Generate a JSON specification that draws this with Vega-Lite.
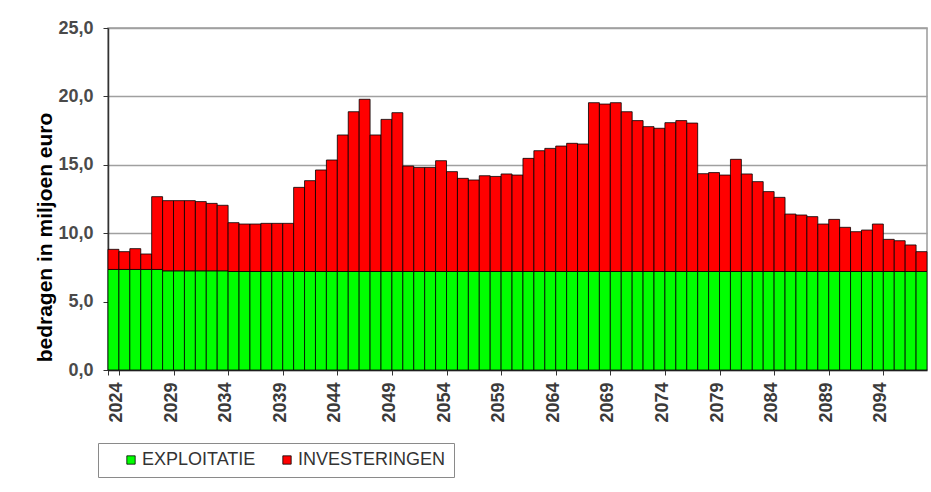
{
  "$schema": "https://vega.github.io/schema/vega-lite/v6.json",
  "width": 819,
  "height": 342,
  "autosize": {"type": "none"},
  "padding": {"left": 108, "top": 28, "right": 4, "bottom": 122},
  "background": "white",
  "config": {
    "view": {"stroke": "#9a9a9a", "strokeWidth": 1.5},
    "font": "Liberation Sans"
  },
  "data": {
    "values": [
      {"jaar": 2024, "EXPLOITATIE": 7.35, "INVESTERINGEN": 1.47},
      {"jaar": 2025, "EXPLOITATIE": 7.35, "INVESTERINGEN": 1.30},
      {"jaar": 2026, "EXPLOITATIE": 7.35, "INVESTERINGEN": 1.52},
      {"jaar": 2027, "EXPLOITATIE": 7.35, "INVESTERINGEN": 1.13},
      {"jaar": 2028, "EXPLOITATIE": 7.35, "INVESTERINGEN": 5.32},
      {"jaar": 2029, "EXPLOITATIE": 7.25, "INVESTERINGEN": 5.13},
      {"jaar": 2030, "EXPLOITATIE": 7.25, "INVESTERINGEN": 5.13},
      {"jaar": 2031, "EXPLOITATIE": 7.25, "INVESTERINGEN": 5.13},
      {"jaar": 2032, "EXPLOITATIE": 7.25, "INVESTERINGEN": 5.06},
      {"jaar": 2033, "EXPLOITATIE": 7.25, "INVESTERINGEN": 4.93},
      {"jaar": 2034, "EXPLOITATIE": 7.25, "INVESTERINGEN": 4.79},
      {"jaar": 2035, "EXPLOITATIE": 7.2, "INVESTERINGEN": 3.57},
      {"jaar": 2036, "EXPLOITATIE": 7.2, "INVESTERINGEN": 3.47},
      {"jaar": 2037, "EXPLOITATIE": 7.2, "INVESTERINGEN": 3.47},
      {"jaar": 2038, "EXPLOITATIE": 7.2, "INVESTERINGEN": 3.52},
      {"jaar": 2039, "EXPLOITATIE": 7.2, "INVESTERINGEN": 3.52},
      {"jaar": 2040, "EXPLOITATIE": 7.2, "INVESTERINGEN": 3.52},
      {"jaar": 2041, "EXPLOITATIE": 7.2, "INVESTERINGEN": 6.15},
      {"jaar": 2042, "EXPLOITATIE": 7.2, "INVESTERINGEN": 6.64},
      {"jaar": 2043, "EXPLOITATIE": 7.2, "INVESTERINGEN": 7.42},
      {"jaar": 2044, "EXPLOITATIE": 7.2, "INVESTERINGEN": 8.15},
      {"jaar": 2045, "EXPLOITATIE": 7.2, "INVESTERINGEN": 9.98},
      {"jaar": 2046, "EXPLOITATIE": 7.2, "INVESTERINGEN": 11.68},
      {"jaar": 2047, "EXPLOITATIE": 7.2, "INVESTERINGEN": 12.59},
      {"jaar": 2048, "EXPLOITATIE": 7.2, "INVESTERINGEN": 9.98},
      {"jaar": 2049, "EXPLOITATIE": 7.2, "INVESTERINGEN": 11.12},
      {"jaar": 2050, "EXPLOITATIE": 7.2, "INVESTERINGEN": 11.61},
      {"jaar": 2051, "EXPLOITATIE": 7.2, "INVESTERINGEN": 7.71},
      {"jaar": 2052, "EXPLOITATIE": 7.2, "INVESTERINGEN": 7.61},
      {"jaar": 2053, "EXPLOITATIE": 7.2, "INVESTERINGEN": 7.61},
      {"jaar": 2054, "EXPLOITATIE": 7.2, "INVESTERINGEN": 8.10},
      {"jaar": 2055, "EXPLOITATIE": 7.2, "INVESTERINGEN": 7.30},
      {"jaar": 2056, "EXPLOITATIE": 7.2, "INVESTERINGEN": 6.81},
      {"jaar": 2057, "EXPLOITATIE": 7.2, "INVESTERINGEN": 6.69},
      {"jaar": 2058, "EXPLOITATIE": 7.2, "INVESTERINGEN": 7.00},
      {"jaar": 2059, "EXPLOITATIE": 7.2, "INVESTERINGEN": 6.95},
      {"jaar": 2060, "EXPLOITATIE": 7.2, "INVESTERINGEN": 7.13},
      {"jaar": 2061, "EXPLOITATIE": 7.2, "INVESTERINGEN": 7.05},
      {"jaar": 2062, "EXPLOITATIE": 7.2, "INVESTERINGEN": 8.27},
      {"jaar": 2063, "EXPLOITATIE": 7.2, "INVESTERINGEN": 8.83},
      {"jaar": 2064, "EXPLOITATIE": 7.2, "INVESTERINGEN": 9.00},
      {"jaar": 2065, "EXPLOITATIE": 7.2, "INVESTERINGEN": 9.17},
      {"jaar": 2066, "EXPLOITATIE": 7.2, "INVESTERINGEN": 9.37},
      {"jaar": 2067, "EXPLOITATIE": 7.2, "INVESTERINGEN": 9.32},
      {"jaar": 2068, "EXPLOITATIE": 7.2, "INVESTERINGEN": 12.34},
      {"jaar": 2069, "EXPLOITATIE": 7.2, "INVESTERINGEN": 12.24},
      {"jaar": 2070, "EXPLOITATIE": 7.2, "INVESTERINGEN": 12.34},
      {"jaar": 2071, "EXPLOITATIE": 7.2, "INVESTERINGEN": 11.68},
      {"jaar": 2072, "EXPLOITATIE": 7.2, "INVESTERINGEN": 11.03},
      {"jaar": 2073, "EXPLOITATIE": 7.2, "INVESTERINGEN": 10.59},
      {"jaar": 2074, "EXPLOITATIE": 7.2, "INVESTERINGEN": 10.47},
      {"jaar": 2075, "EXPLOITATIE": 7.2, "INVESTERINGEN": 10.88},
      {"jaar": 2076, "EXPLOITATIE": 7.2, "INVESTERINGEN": 11.03},
      {"jaar": 2077, "EXPLOITATIE": 7.2, "INVESTERINGEN": 10.85},
      {"jaar": 2078, "EXPLOITATIE": 7.2, "INVESTERINGEN": 7.15},
      {"jaar": 2079, "EXPLOITATIE": 7.2, "INVESTERINGEN": 7.23},
      {"jaar": 2080, "EXPLOITATIE": 7.2, "INVESTERINGEN": 7.05},
      {"jaar": 2081, "EXPLOITATIE": 7.2, "INVESTERINGEN": 8.20},
      {"jaar": 2082, "EXPLOITATIE": 7.2, "INVESTERINGEN": 7.13},
      {"jaar": 2083, "EXPLOITATIE": 7.2, "INVESTERINGEN": 6.57},
      {"jaar": 2084, "EXPLOITATIE": 7.2, "INVESTERINGEN": 5.84},
      {"jaar": 2085, "EXPLOITATIE": 7.2, "INVESTERINGEN": 5.42},
      {"jaar": 2086, "EXPLOITATIE": 7.2, "INVESTERINGEN": 4.20},
      {"jaar": 2087, "EXPLOITATIE": 7.2, "INVESTERINGEN": 4.13},
      {"jaar": 2088, "EXPLOITATIE": 7.2, "INVESTERINGEN": 4.01},
      {"jaar": 2089, "EXPLOITATIE": 7.2, "INVESTERINGEN": 3.47},
      {"jaar": 2090, "EXPLOITATIE": 7.2, "INVESTERINGEN": 3.81},
      {"jaar": 2091, "EXPLOITATIE": 7.2, "INVESTERINGEN": 3.23},
      {"jaar": 2092, "EXPLOITATIE": 7.2, "INVESTERINGEN": 2.91},
      {"jaar": 2093, "EXPLOITATIE": 7.2, "INVESTERINGEN": 3.03},
      {"jaar": 2094, "EXPLOITATIE": 7.2, "INVESTERINGEN": 3.47},
      {"jaar": 2095, "EXPLOITATIE": 7.2, "INVESTERINGEN": 2.35},
      {"jaar": 2096, "EXPLOITATIE": 7.2, "INVESTERINGEN": 2.25},
      {"jaar": 2097, "EXPLOITATIE": 7.2, "INVESTERINGEN": 1.94},
      {"jaar": 2098, "EXPLOITATIE": 7.2, "INVESTERINGEN": 1.45}
    ]
  },
  "transform": [{"fold": ["EXPLOITATIE", "INVESTERINGEN"], "as": ["serie", "waarde"]}],
  "mark": {"type": "bar", "stroke": "black", "strokeWidth": 0.8},
  "encoding": {
    "x": {
      "field": "jaar",
      "type": "ordinal",
      "scale": {"paddingInner": 0, "paddingOuter": 0},
      "axis": {
        "title": null,
        "values": [2024, 2029, 2034, 2039, 2044, 2049, 2054, 2059, 2064, 2069, 2074, 2079, 2084, 2089, 2094],
        "labelAngle": -90,
        "labelOffset": 3,
        "tickBand": "extent",
        "labelFontSize": 18,
        "labelFontWeight": "bold",
        "labelColor": "#3a3a3a",
        "tickSize": 5,
        "tickColor": "#333333",
        "labelPadding": 7,
        "domainColor": "#333333",
        "domainWidth": 1.5
      }
    },
    "y": {
      "field": "waarde",
      "type": "quantitative",
      "stack": "zero",
      "scale": {"domain": [0, 25], "nice": false},
      "axis": {
        "values": [0, 5, 10, 15, 20, 25],
        "labelExpr": "replace(format(datum.value, '.1f'), '.', ',')",
        "labelFontSize": 18,
        "labelFontWeight": "bold",
        "labelColor": "#4a4a4a",
        "labelPadding": 10,
        "tickSize": 5,
        "tickColor": "#333333",
        "domainColor": "#333333",
        "domainWidth": 1.5,
        "gridColor": "#a0a0a0",
        "gridWidth": 1.5,
        "title": "bedragen in miljoen euro",
        "titleFontSize": 21,
        "titleFontWeight": "bold",
        "titleColor": "black",
        "titleX": -63,
        "titleY": 209,
        "titleBaseline": "middle"
      }
    },
    "color": {
      "field": "serie",
      "type": "nominal",
      "scale": {"domain": ["EXPLOITATIE", "INVESTERINGEN"], "range": ["#00ff00", "#ff0000"]},
      "legend": {
        "title": null,
        "orient": "none",
        "legendX": -10,
        "legendY": 415,
        "direction": "horizontal",
        "strokeColor": "#8a8a8a",
        "padding": 8,
        "symbolType": "square",
        "symbolSize": 70,
        "symbolStrokeColor": "black",
        "symbolStrokeWidth": 0.8,
        "symbolOpacity": 1,
        "symbolOffset": 16,
        "labelOffset": 2,
        "labelFontSize": 18,
        "labelColor": "#333333",
        "labelLimit": 300,
        "columnPadding": 6
      }
    },
    "order": {"field": "serie", "sort": "ascending"}
  }
}
